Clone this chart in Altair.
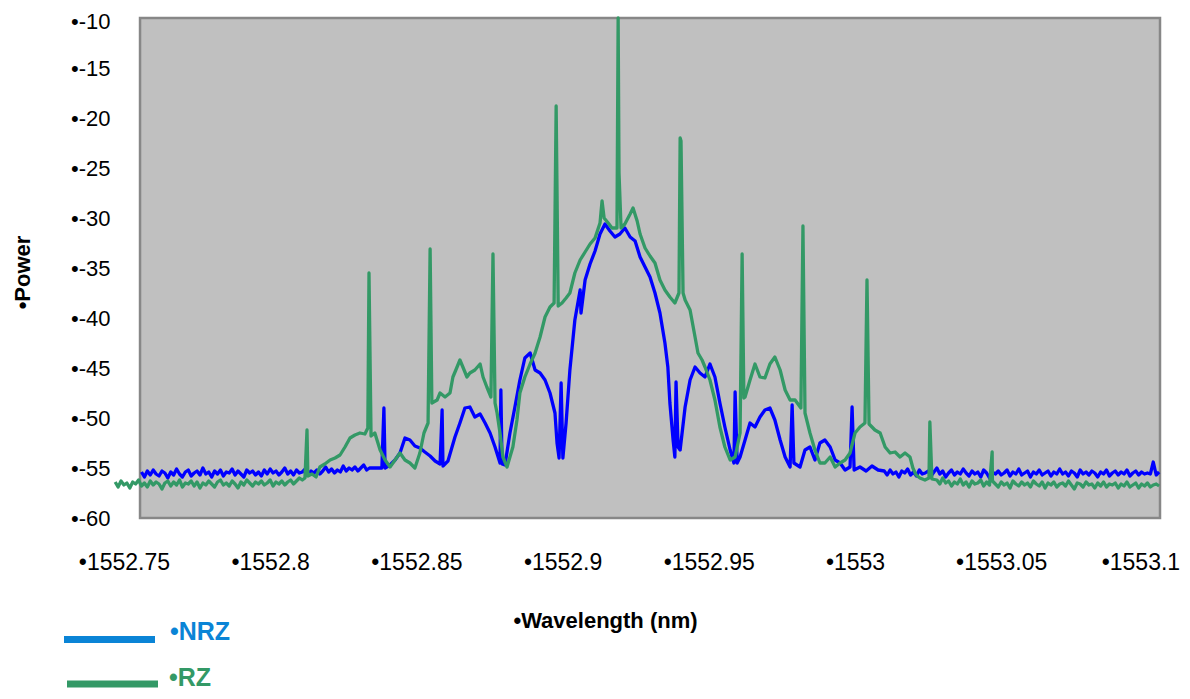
import altair as alt
import pandas as pd

# ---------------- data ----------------
X_TICKS = [1552.75, 1552.8, 1552.85, 1552.9, 1552.95, 1553.0, 1553.05, 1553.1]
Y_TICKS = [-10, -15, -20, -25, -30, -35, -40, -45, -50, -55, -60]
X_DOMAIN = [1552.7466, 1553.1043]
Y_DOMAIN = [-60, -10]
FRAME_WL = [1552.7555, 1553.1043]

# NRZ: left noise floor
nrz_left_wl = [1552.756, 1552.757, 1552.758, 1552.759, 1552.760, 1552.761, 1552.762, 1552.763, 1552.764, 1552.765,
               1552.766, 1552.767, 1552.768, 1552.769, 1552.770, 1552.771, 1552.772, 1552.773, 1552.774, 1552.775,
               1552.776, 1552.777, 1552.778, 1552.779, 1552.780, 1552.781, 1552.782, 1552.783, 1552.784, 1552.785,
               1552.786, 1552.787, 1552.788, 1552.789, 1552.790, 1552.791, 1552.792, 1552.793, 1552.794, 1552.795,
               1552.796, 1552.797, 1552.798, 1552.799, 1552.800, 1552.801, 1552.802, 1552.803, 1552.804, 1552.805,
               1552.806, 1552.807, 1552.808, 1552.809, 1552.810, 1552.811, 1552.812, 1552.813, 1552.814, 1552.815,
               1552.816, 1552.817, 1552.818, 1552.819, 1552.820, 1552.821, 1552.822, 1552.823, 1552.824, 1552.825,
               1552.826, 1552.827, 1552.828, 1552.829, 1552.830, 1552.831, 1552.832, 1552.833, 1552.834]
nrz_left_pw = [-55.4, -55.9, -55.3, -55.7, -55.2, -55.6, -55.8, -55.3, -55.5, -56.0,
               -55.4, -55.7, -55.1, -55.6, -55.9, -55.4, -55.2, -55.8, -55.5, -55.3,
               -55.7, -55.0, -55.6, -55.4, -55.9, -55.3, -55.6, -55.2, -55.8, -55.4,
               -55.5, -55.1, -55.7, -55.3, -55.6, -55.9, -55.2, -55.5, -55.3, -55.7,
               -55.4, -55.8, -55.2, -55.6, -55.1, -55.5, -55.3, -55.7, -55.4, -55.0,
               -55.6, -55.3, -55.7, -55.2, -55.5, -55.4, -55.1, -55.6, -55.3, -55.5,
               -55.2, -55.6, -55.3, -54.9, -55.4, -55.1, -55.5, -55.2, -55.4, -54.8,
               -55.3, -55.0, -55.2, -54.9, -55.3, -55.0, -54.7, -55.2, -55.0]

# NRZ: central spectrum
nrz_mid_wl = [1552.8382, 1552.8389, 1552.8393, 1552.8410, 1552.8427, 1552.8444, 1552.8461, 1552.8478, 1552.8495, 1552.8512,
              1552.8529, 1552.8547, 1552.8564, 1552.8581, 1552.8588, 1552.8591, 1552.8608, 1552.8632, 1552.8649, 1552.8666,
              1552.8683, 1552.8700, 1552.8718, 1552.8735, 1552.8752, 1552.8769, 1552.8786, 1552.8789, 1552.8793, 1552.8803,
              1552.8820, 1552.8837, 1552.8854, 1552.8871, 1552.8889, 1552.8906, 1552.8923, 1552.8940, 1552.8957, 1552.8974,
              1552.8981, 1552.8988, 1552.8995, 1552.9001, 1552.9012, 1552.9025, 1552.9042, 1552.9060, 1552.9063, 1552.9077,
              1552.9094, 1552.9111, 1552.9128, 1552.9145, 1552.9162, 1552.9179, 1552.9196, 1552.9213, 1552.9231, 1552.9248,
              1552.9265, 1552.9282, 1552.9299, 1552.9316, 1552.9333, 1552.9350, 1552.9360, 1552.9367, 1552.9378, 1552.9384,
              1552.9388, 1552.9395, 1552.9402, 1552.9419, 1552.9436, 1552.9453, 1552.9470, 1552.9487, 1552.9504, 1552.9521,
              1552.9538, 1552.9555, 1552.9573, 1552.9586, 1552.9590, 1552.9597, 1552.9607, 1552.9624, 1552.9641, 1552.9658,
              1552.9675, 1552.9692, 1552.9709, 1552.9726, 1552.9744, 1552.9761, 1552.9778, 1552.9785, 1552.9791, 1552.9812,
              1552.9829, 1552.9846, 1552.9863, 1552.9880, 1552.9897, 1552.9915, 1552.9932, 1552.9949, 1552.9966, 1552.9983,
              1552.9990, 1552.9997, 1553.0017, 1553.0038, 1553.0058, 1553.0079]
nrz_mid_pw = [-55.0, -49.0, -55.0, -54.7, -54.2, -53.5, -52.0, -52.2, -52.8, -53.0,
              -53.4, -53.8, -54.3, -54.6, -49.2, -54.8, -54.3, -51.9, -50.5, -49.0,
              -48.9, -49.9, -49.6, -50.5, -51.5, -52.9, -54.5, -47.2, -54.6, -54.7,
              -51.5, -48.9, -46.2, -44.0, -43.5, -45.2, -45.5, -46.2, -47.5, -49.5,
              -52.5, -54.0, -46.5, -54.0, -50.5, -45.2, -40.2, -37.2, -39.5, -36.2,
              -34.6, -33.3, -31.6, -30.6, -31.3, -31.9, -31.6, -31.0, -31.9, -32.3,
              -33.9, -34.9, -35.9, -37.5, -39.5, -42.5, -44.9, -48.5, -52.2, -53.9,
              -46.4, -52.9, -53.2, -48.9, -46.2, -44.9, -45.5, -45.9, -44.6, -45.9,
              -48.5, -50.9, -53.2, -54.5, -47.4, -54.5, -53.9, -52.2, -50.5, -50.9,
              -49.9, -49.2, -49.0, -50.2, -52.2, -53.9, -54.9, -48.7, -54.5, -54.9,
              -53.2, -52.9, -54.2, -52.5, -52.2, -52.9, -54.2, -54.5, -55.2, -54.9,
              -48.9, -55.2, -54.9, -55.3, -54.8, -55.2]

# NRZ: right noise floor
nrz_right_wl = [1553.010, 1553.011, 1553.012, 1553.013, 1553.014, 1553.015, 1553.016, 1553.017, 1553.018, 1553.019,
                1553.020, 1553.021, 1553.022, 1553.023, 1553.024, 1553.025, 1553.026, 1553.027, 1553.028, 1553.029,
                1553.030, 1553.031, 1553.032, 1553.033, 1553.034, 1553.035, 1553.036, 1553.037, 1553.038, 1553.039,
                1553.040, 1553.041, 1553.042, 1553.043, 1553.044, 1553.045, 1553.046, 1553.047, 1553.048, 1553.049,
                1553.050, 1553.051, 1553.052, 1553.053, 1553.054, 1553.055, 1553.056, 1553.057, 1553.058, 1553.059,
                1553.060, 1553.061, 1553.062, 1553.063, 1553.064, 1553.065, 1553.066, 1553.067, 1553.068, 1553.069,
                1553.070, 1553.071, 1553.072, 1553.073, 1553.074, 1553.075, 1553.076, 1553.077, 1553.078, 1553.079,
                1553.080, 1553.081, 1553.082, 1553.083, 1553.084, 1553.085, 1553.086, 1553.087, 1553.088, 1553.089,
                1553.090, 1553.091, 1553.092, 1553.093, 1553.094, 1553.095, 1553.096, 1553.097, 1553.098, 1553.099,
                1553.100, 1553.101, 1553.102, 1553.103, 1553.104]
nrz_right_pw = [-55.3, -55.7, -55.2, -55.6, -55.4, -55.9, -55.3, -55.5, -55.1, -55.7,
                -55.4, -55.8, -55.2, -55.6, -55.5, -55.3, -55.8, -55.4, -55.0, -55.6,
                -55.3, -55.9, -55.5, -55.2, -55.7, -55.4, -55.6, -55.1, -55.5, -55.8,
                -55.3, -55.6, -55.4, -55.9, -55.2, -55.5, -56.0, -55.4, -55.6, -55.3,
                -55.7, -55.5, -55.2, -55.8, -55.4, -55.6, -55.1, -55.7, -55.5, -55.3,
                -55.9, -55.4, -55.6, -55.2, -55.7, -55.5, -55.3, -55.8, -55.4, -55.6,
                -55.1, -55.6, -55.4, -55.8, -55.3, -55.5, -55.9, -55.2, -55.6, -55.4,
                -55.7, -55.3, -55.5, -55.9, -55.4, -55.6, -55.2, -55.8, -55.5, -55.3,
                -55.7, -55.4, -55.6, -55.2, -55.8, -55.5, -55.3, -55.7, -55.4, -55.6,
                -55.5, -55.6, -54.4, -55.7, -55.4]

# RZ: left noise floor
rz_left_wl = [1552.747, 1552.748, 1552.749, 1552.750, 1552.751, 1552.752, 1552.753, 1552.754, 1552.755, 1552.756,
              1552.757, 1552.758, 1552.759, 1552.760, 1552.761, 1552.762, 1552.763, 1552.764, 1552.765, 1552.766,
              1552.767, 1552.768, 1552.769, 1552.770, 1552.771, 1552.772, 1552.773, 1552.774, 1552.775, 1552.776,
              1552.777, 1552.778, 1552.779, 1552.780, 1552.781, 1552.782, 1552.783, 1552.784, 1552.785, 1552.786,
              1552.787, 1552.788, 1552.789, 1552.790, 1552.791, 1552.792, 1552.793, 1552.794, 1552.795, 1552.796,
              1552.797, 1552.798, 1552.799, 1552.800, 1552.801, 1552.802, 1552.803, 1552.804, 1552.805, 1552.806,
              1552.807, 1552.808, 1552.809, 1552.810, 1552.811]
rz_left_pw = [-56.4, -56.9, -56.3, -56.7, -56.5, -57.0, -56.4, -56.6, -56.2, -56.8,
              -56.5, -56.9, -56.3, -56.7, -56.4, -56.6, -57.1, -56.5, -56.3, -56.8,
              -56.4, -56.7, -56.2, -56.9, -56.5, -56.6, -56.3, -56.8, -56.4, -57.0,
              -56.5, -56.7, -56.3, -56.6, -56.9, -56.4, -56.2, -56.7, -56.5, -56.8,
              -56.3, -56.6, -57.0, -56.4, -56.7, -56.2, -56.5, -56.8, -56.4, -56.6,
              -56.3, -56.7, -56.5, -56.2, -56.8, -56.4, -56.6, -56.3, -56.7, -56.4,
              -56.2, -56.6, -56.3, -56.0, -56.2]

# RZ: central spectrum with clock tones
rz_mid_wl = [1552.8119, 1552.8126, 1552.8129, 1552.8143, 1552.8157, 1552.8170, 1552.8187, 1552.8205, 1552.8222, 1552.8239,
             1552.8256, 1552.8273, 1552.8290, 1552.8307, 1552.8324, 1552.8334, 1552.8338, 1552.8345, 1552.8358, 1552.8376,
             1552.8393, 1552.8410, 1552.8427, 1552.8444, 1552.8461, 1552.8478, 1552.8495, 1552.8512, 1552.8526, 1552.8540,
             1552.8547, 1552.8553, 1552.8571, 1552.8581, 1552.8598, 1552.8615, 1552.8625, 1552.8635, 1552.8649, 1552.8659,
             1552.8673, 1552.8683, 1552.8700, 1552.8718, 1552.8728, 1552.8741, 1552.8755, 1552.8762, 1552.8769, 1552.8776,
             1552.8786, 1552.8796, 1552.8810, 1552.8820, 1552.8830, 1552.8844, 1552.8854, 1552.8871, 1552.8889, 1552.8906,
             1552.8923, 1552.8940, 1552.8957, 1552.8971, 1552.8978, 1552.8985, 1552.8998, 1552.9012, 1552.9025, 1552.9042,
             1552.9060, 1552.9077, 1552.9094, 1552.9111, 1552.9128, 1552.9135, 1552.9142, 1552.9156, 1552.9169, 1552.9186,
             1552.9190, 1552.9193, 1552.9200, 1552.9213, 1552.9231, 1552.9241, 1552.9255, 1552.9265, 1552.9282, 1552.9299,
             1552.9316, 1552.9333, 1552.9350, 1552.9367, 1552.9384, 1552.9398, 1552.9402, 1552.9405, 1552.9412, 1552.9419,
             1552.9436, 1552.9453, 1552.9463, 1552.9477, 1552.9487, 1552.9504, 1552.9521, 1552.9538, 1552.9555, 1552.9573,
             1552.9590, 1552.9607, 1552.9614, 1552.9620, 1552.9624, 1552.9641, 1552.9658, 1552.9675, 1552.9692, 1552.9709,
             1552.9726, 1552.9744, 1552.9761, 1552.9778, 1552.9795, 1552.9815, 1552.9822, 1552.9829, 1552.9846, 1552.9863,
             1552.9880, 1552.9897, 1552.9915, 1552.9932, 1552.9949, 1552.9966, 1552.9983, 1553.0000, 1553.0017, 1553.0034,
             1553.0041, 1553.0048, 1553.0068, 1553.0086, 1553.0103, 1553.0120, 1553.0137, 1553.0154, 1553.0171, 1553.0188,
             1553.0198, 1553.0209, 1553.0222, 1553.0239, 1553.0253, 1553.0256, 1553.0263, 1553.0469]
rz_mid_pw = [-56.0, -51.2, -55.8, -55.6, -55.9, -54.9, -54.6, -54.2, -54.0, -53.7,
             -52.9, -52.0, -51.7, -51.5, -51.6, -51.0, -35.5, -51.8, -51.5, -53.2,
             -54.2, -54.9, -54.2, -53.5, -54.2, -54.5, -55.0, -53.5, -51.5, -50.5,
             -33.1, -48.5, -48.2, -47.5, -47.9, -47.5, -45.9, -45.2, -44.2, -44.9,
             -45.9, -45.5, -45.2, -44.6, -45.9, -46.9, -47.9, -33.6, -48.5, -49.5,
             -51.5, -53.9, -54.9, -53.9, -52.9, -50.2, -47.5, -45.9, -44.6, -43.5,
             -41.9, -39.9, -38.9, -38.5, -18.8, -38.8, -38.5, -38.0, -37.5, -35.5,
             -34.2, -33.4, -32.6, -32.0, -30.5, -28.3, -30.0, -30.5, -31.0, -31.0,
             -10.0, -25.5, -31.0, -30.6, -29.6, -29.0, -30.3, -31.6, -33.0, -33.8,
             -34.5, -36.2, -37.2, -37.9, -38.5, -37.5, -22.0, -22.3, -37.5, -38.2,
             -39.2, -41.9, -43.5, -44.2, -44.9, -46.2, -48.2, -50.9, -52.9, -54.2,
             -53.9, -51.5, -33.6, -48.0, -47.9, -46.2, -44.6, -45.9, -46.0, -44.6,
             -43.9, -45.2, -47.2, -48.2, -48.2, -49.0, -30.8, -49.5, -51.5, -53.2,
             -54.5, -54.5, -53.9, -54.9, -54.5, -54.2, -53.5, -51.5, -50.9, -50.5,
             -36.2, -50.6, -51.2, -51.5, -52.9, -53.5, -53.4, -53.9, -53.5, -53.9,
             -55.0, -55.7, -56.0, -56.2, -56.0, -50.4, -56.1, -53.4]

# RZ: right noise floor
rz_right_wl = [1553.028, 1553.029, 1553.030, 1553.031, 1553.032, 1553.033, 1553.034, 1553.035, 1553.036, 1553.037,
               1553.038, 1553.039, 1553.040, 1553.041, 1553.042, 1553.043, 1553.044, 1553.045, 1553.046, 1553.047,
               1553.048, 1553.049, 1553.050, 1553.051, 1553.052, 1553.053, 1553.054, 1553.055, 1553.056, 1553.057,
               1553.058, 1553.059, 1553.060, 1553.061, 1553.062, 1553.063, 1553.064, 1553.065, 1553.066, 1553.067,
               1553.068, 1553.069, 1553.070, 1553.071, 1553.072, 1553.073, 1553.074, 1553.075, 1553.076, 1553.077,
               1553.078, 1553.079, 1553.080, 1553.081, 1553.082, 1553.083, 1553.084, 1553.085, 1553.086, 1553.087,
               1553.088, 1553.089, 1553.090, 1553.091, 1553.092, 1553.093, 1553.094, 1553.095, 1553.096, 1553.097,
               1553.098, 1553.099, 1553.100, 1553.101, 1553.102, 1553.103, 1553.104]
rz_right_pw = [-56.2, -56.6, -56.0, -56.5, -56.3, -56.8, -56.4, -56.6, -56.1, -56.7,
               -56.4, -56.9, -56.3, -56.6, -56.5, -56.2, -56.8, -56.4, -56.7, -56.3,
               -56.6, -56.9, -56.4, -56.7, -56.5, -57.0, -56.3, -56.6, -56.8, -56.4,
               -56.7, -56.5, -56.9, -56.3, -56.6, -56.8, -56.4, -57.0, -56.5, -56.7,
               -56.4, -56.9, -56.6, -56.5, -56.8, -56.3, -56.7, -57.1, -56.5, -56.6,
               -56.9, -56.4, -56.7, -56.6, -57.0, -56.5, -56.8, -56.4, -56.9, -56.6,
               -56.7, -56.5, -57.0, -56.6, -56.8, -56.4, -56.9, -56.7, -56.5, -57.0,
               -56.6, -56.8, -56.5, -56.9, -56.7, -56.6, -56.8]

SERIES = ["NRZ", "RZ"]
LINE_COLORS = ["#0000ff", "#339966"]
LEGEND_COLORS = ["#0a84d6", "#339966"]

# ---------------- build tables ----------------
rows = []
for name, parts in [("NRZ", [(nrz_left_wl, nrz_left_pw), (nrz_mid_wl, nrz_mid_pw), (nrz_right_wl, nrz_right_pw)]),
                    ("RZ", [(rz_left_wl, rz_left_pw), (rz_mid_wl, rz_mid_pw), (rz_right_wl, rz_right_pw)])]:
    for wl, pw in parts:
        for a, b in zip(wl, pw):
            rows.append({"series": name, "wl": a, "power": b})
df = pd.DataFrame(rows).sort_values(["series", "wl"])

frame_df = pd.DataFrame({"wl": [FRAME_WL[0]], "wl2": [FRAME_WL[1]],
                         "power": [Y_DOMAIN[0]], "power2": [Y_DOMAIN[1]]})

FONT = "Liberation Sans"

x_axis = alt.Axis(values=X_TICKS, labelExpr="'•' + format(datum.value, '.6~r')",
                  ticks=False, domain=False, grid=False, labelPadding=33,
                  labelOffset={"condition": {"test": "datum.value > 1553.09", "value": -7}, "value": 0},
                  labelFont=FONT, labelFontSize=23, labelColor="#000000",
                  title="•Wavelength (nm)", titleFont=FONT, titleFontSize=22,
                  titleFontWeight="bold", titleColor="#000000",
                  titleX=491, titleY=102, titleAlign="center", titleBaseline="middle")
y_axis = alt.Axis(values=Y_TICKS, labelExpr="'•-' + abs(datum.value)",
                  ticks=False, domain=False, grid=False, labelPadding=4,
                  labelOffset={"condition": {"test": "datum.value > -11", "value": 3}, "value": 0},
                  labelFont=FONT, labelFontSize=22, labelColor="#000000",
                  title="•Power", titleFont=FONT, titleFontSize=22,
                  titleFontWeight="bold", titleColor="#000000",
                  titleX=-92, titleY=254, titleAlign="center", titleBaseline="middle", titleAngle=270)

x_scale = alt.Scale(domain=X_DOMAIN, nice=False, zero=False)
y_scale = alt.Scale(domain=Y_DOMAIN, nice=False, zero=False)

frame = alt.Chart(frame_df).mark_rect(fill="#c0c0c0", stroke="#878787", strokeWidth=2.5).encode(
    x=alt.X("wl:Q", scale=x_scale, axis=x_axis),
    x2="wl2:Q",
    y=alt.Y("power:Q", scale=y_scale, axis=y_axis),
    y2="power2:Q",
)

lines = alt.Chart(df).mark_line(strokeWidth=3.3, strokeJoin="round").encode(
    x=alt.X("wl:Q", scale=x_scale, axis=x_axis),
    y=alt.Y("power:Q", scale=y_scale, axis=y_axis),
    color=alt.Color("series:N", scale=alt.Scale(domain=SERIES, range=LINE_COLORS), legend=None),
    order=alt.Order("wl:Q"),
)

one = pd.DataFrame({"k": [0]})
leg_nrz_line = alt.Chart(one).mark_rule(color=LEGEND_COLORS[0], strokeWidth=7).encode(
    x=alt.value(-50), x2=alt.value(41), y=alt.value(621.5))
leg_rz_line = alt.Chart(one).mark_rule(color=LEGEND_COLORS[1], strokeWidth=7).encode(
    x=alt.value(-47), x2=alt.value(44), y=alt.value(666))
leg_nrz_text = alt.Chart(one).mark_text(text="•" + SERIES[0], align="left", baseline="alphabetic",
                                        font=FONT, fontSize=25, fontWeight="bold",
                                        color=LEGEND_COLORS[0]).encode(
    x=alt.value(56), y=alt.value(622))
leg_rz_text = alt.Chart(one).mark_text(text="•" + SERIES[1], align="left", baseline="alphabetic",
                                       font=FONT, fontSize=25, fontWeight="bold",
                                       color=LEGEND_COLORS[1]).encode(
    x=alt.value(55), y=alt.value(668))

chart = alt.layer(frame, lines, leg_nrz_line, leg_rz_line, leg_nrz_text, leg_rz_text).properties(
    width=1046, height=500,
    autosize=alt.AutoSizeParams(type="none"),
    padding={"left": 106, "top": 10, "right": 22, "bottom": 173},
    background="#ffffff",
).configure_view(stroke=None)

chart.save("out.html", embed_options={"renderer": "svg", "actions": False})
